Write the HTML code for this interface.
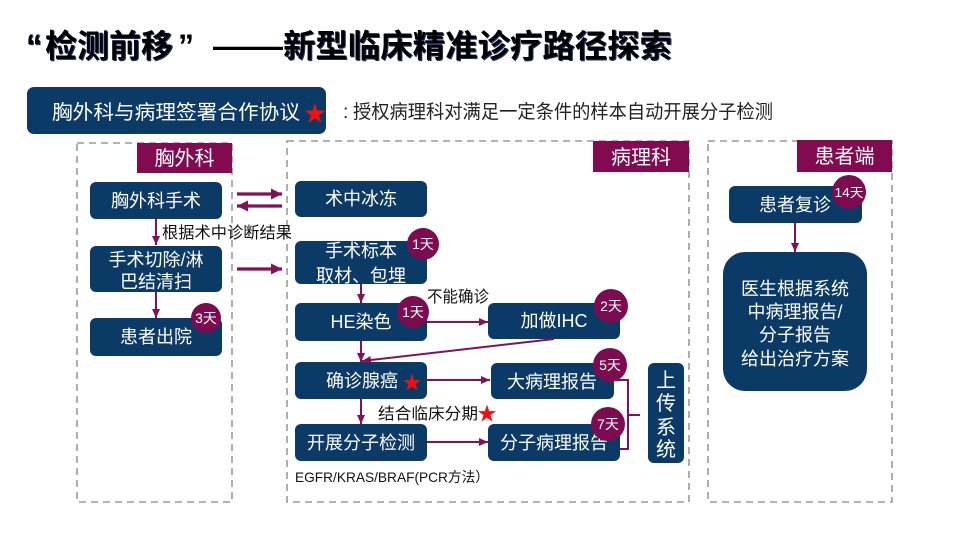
<!DOCTYPE html>
<html><head><meta charset="utf-8"><style>
html,body{margin:0;padding:0;background:#fff;}
svg{display:block;}
text{font-family:"Liberation Sans","Noto Sans CJK SC",sans-serif;}
</style></head><body>
<svg width="961" height="535" viewBox="0 0 961 535" xmlns="http://www.w3.org/2000/svg">
<defs>
<marker id="ah" markerUnits="userSpaceOnUse" markerWidth="10" markerHeight="10" refX="9" refY="5" orient="auto"><path d="M0,1 L9,5 L0,9 Z" fill="#84105a"/></marker>
<marker id="ahb" markerUnits="userSpaceOnUse" markerWidth="12" markerHeight="12" refX="11" refY="6" orient="auto"><path d="M0,0.5 L11,6 L0,11.5 Z" fill="#84105a"/></marker>
<polygon id="star" points="0,-1 0.2245,-0.309 0.951,-0.309 0.3633,0.118 0.588,0.809 0,0.382 -0.588,0.809 -0.3633,0.118 -0.951,-0.309 -0.2245,-0.309" fill="#ee1111"/>
</defs>

<!-- Title -->
<g font-weight="bold" font-size="32" fill="#000">
<text x="27" y="58" fill="#1a3370">“</text>
<text x="26" y="57">“</text>
<text x="46" y="58" fill="#1a3370" textLength="128" lengthAdjust="spacingAndGlyphs">检测前移</text>
<text x="45" y="57" textLength="128" lengthAdjust="spacingAndGlyphs">检测前移</text>
<text x="178" y="57">”</text>
<text x="213" y="57" textLength="70" lengthAdjust="spacingAndGlyphs">——</text>
<text x="284" y="58" fill="#1a3370" textLength="389" lengthAdjust="spacingAndGlyphs">新型临床精准诊疗路径探索</text>
<text x="283" y="57" textLength="389" lengthAdjust="spacingAndGlyphs">新型临床精准诊疗路径探索</text>
</g>

<!-- Banner -->
<rect x="27" y="87" width="299" height="47" rx="7" fill="#0c3a66"/>
<text x="52" y="119" font-size="20" fill="#fff" textLength="248" lengthAdjust="spacingAndGlyphs">胸外科与病理签署合作协议</text>
<use href="#star" transform="translate(315,114) scale(11)"/>
<text x="343" y="118" font-size="19" fill="#222">:</text>
<text x="353" y="118" font-size="19" fill="#222" textLength="420" lengthAdjust="spacingAndGlyphs">授权病理科对满足一定条件的样本自动开展分子检测</text>

<!-- Dashed containers -->
<g fill="none" stroke="#9a9a9a" stroke-width="1.6" stroke-dasharray="7,5">
<rect x="77" y="143" width="155" height="359"/>
<rect x="287" y="141" width="402" height="361"/>
<rect x="708" y="141" width="184" height="361"/>
</g>

<!-- Department labels -->
<rect x="137" y="143" width="95" height="30" fill="#810a50"/>
<text x="184.5" y="165" font-size="20" fill="#fff" text-anchor="middle">胸外科</text>
<rect x="593" y="141" width="96" height="31" fill="#810a50"/>
<text x="641" y="164" font-size="20" fill="#fff" text-anchor="middle">病理科</text>
<rect x="797" y="140" width="95" height="32" fill="#810a50"/>
<text x="844.5" y="163" font-size="20" fill="#fff" text-anchor="middle">患者端</text>

<!-- Boxes -->
<g fill="#0c3a66">
<rect x="90" y="182" width="132" height="37" rx="6"/>
<rect x="90" y="246" width="132" height="46" rx="6"/>
<rect x="90" y="318" width="132" height="38" rx="6"/>
<rect x="295" y="181" width="132" height="36" rx="6"/>
<rect x="295" y="241" width="132" height="43" rx="6"/>
<rect x="295" y="303" width="132" height="38" rx="6"/>
<rect x="488" y="303" width="132" height="36" rx="6"/>
<rect x="295" y="362" width="132" height="37" rx="6"/>
<rect x="491" y="363" width="123" height="36" rx="6"/>
<rect x="295" y="424" width="132" height="37" rx="6"/>
<rect x="488" y="424" width="132" height="37" rx="6"/>
<rect x="648" y="363" width="36" height="100" rx="6"/>
<rect x="729" y="186" width="133" height="37" rx="6"/>
<rect x="723" y="252" width="144" height="139" rx="22"/>
</g>

<g font-size="18" fill="#fff" text-anchor="middle">
<text x="156" y="207">胸外科手术</text>
<text x="156" y="266">手术切除/淋</text>
<text x="156" y="288">巴结清扫</text>
<text x="156" y="343">患者出院</text>
<text x="361" y="205">术中冰冻</text>
<text x="361" y="257">手术标本</text>
<text x="361" y="282">取材、包埋</text>
<text x="361" y="328">HE染色</text>
<text x="554" y="327">加做IHC</text>
<text x="362" y="387">确诊腺癌</text>
<text x="552" y="388">大病理报告</text>
<text x="361" y="449">开展分子检测</text>
<text x="554" y="449">分子病理报告</text>
<text x="795" y="211">患者复诊</text>
<text x="795" y="295">医生根据系统</text>
<text x="795" y="318">中病理报告/</text>
<text x="795" y="341">分子报告</text>
<text x="795" y="365">给出治疗方案</text>
</g>
<g font-size="20" fill="#fff" text-anchor="middle">
<text x="666" y="387">上</text>
<text x="666" y="410">传</text>
<text x="666" y="434">系</text>
<text x="666" y="456">统</text>
</g>

<use href="#star" transform="translate(412,383) scale(9.5)"/>

<!-- Day circles -->
<g fill="#7d0b4f">
<circle cx="206" cy="318" r="15"/>
<circle cx="423" cy="244" r="16"/>
<circle cx="413" cy="312" r="16"/>
<circle cx="611" cy="306" r="17"/>
<circle cx="610" cy="365" r="17"/>
<circle cx="608" cy="424" r="17"/>
<circle cx="849" cy="192" r="17"/>
</g>
<g font-size="14" fill="#fff" text-anchor="middle">
<text x="206" y="323">3天</text>
<text x="423" y="249">1天</text>
<text x="413" y="317">1天</text>
<text x="611" y="311">2天</text>
<text x="610" y="370">5天</text>
<text x="608" y="429">7天</text>
<text x="849" y="197" font-size="13" textLength="29" lengthAdjust="spacingAndGlyphs">14天</text>
</g>

<!-- Arrows -->
<g stroke="#84105a" fill="none">
<line x1="237" y1="194" x2="282" y2="194" stroke-width="3.2" marker-end="url(#ahb)"/>
<line x1="282" y1="206" x2="237" y2="206" stroke-width="3.2" marker-end="url(#ahb)"/>
<line x1="237" y1="269" x2="282" y2="269" stroke-width="3.2" marker-end="url(#ahb)"/>
<g stroke-width="2">
<line x1="156" y1="219" x2="156" y2="245" marker-end="url(#ah)"/>
<line x1="156" y1="292" x2="156" y2="318" marker-end="url(#ah)"/>
<line x1="361" y1="284" x2="361" y2="303" marker-end="url(#ah)"/>
<line x1="361" y1="341" x2="361" y2="362" marker-end="url(#ah)"/>
<line x1="554" y1="339" x2="362" y2="361" marker-end="url(#ah)"/>
<line x1="427" y1="322" x2="488" y2="322" marker-end="url(#ah)"/>
<line x1="427" y1="380" x2="490" y2="380" marker-end="url(#ah)"/>
<line x1="361" y1="399" x2="361" y2="424" marker-end="url(#ah)"/>
<line x1="427" y1="442" x2="488" y2="442" marker-end="url(#ah)"/>
<line x1="795" y1="223" x2="795" y2="252" marker-end="url(#ah)"/>
<path d="M614,380 H628 V449 H620"/>
<line x1="628" y1="415" x2="640" y2="415"/>
</g>
</g>

<!-- Annotations -->
<text x="162" y="238" font-size="16" fill="#111" textLength="130" lengthAdjust="spacingAndGlyphs">根据术中诊断结果</text>
<text x="427" y="302" font-size="16" fill="#111" textLength="62" lengthAdjust="spacingAndGlyphs">不能确诊</text>
<text x="378" y="419" font-size="16" fill="#111" textLength="100" lengthAdjust="spacingAndGlyphs">结合临床分期</text>
<use href="#star" transform="translate(487,414) scale(9.5)"/>
<text x="295" y="482" font-size="14" fill="#111" textLength="194" lengthAdjust="spacingAndGlyphs">EGFR/KRAS/BRAF(PCR方法）</text>
</svg>
</body></html>
